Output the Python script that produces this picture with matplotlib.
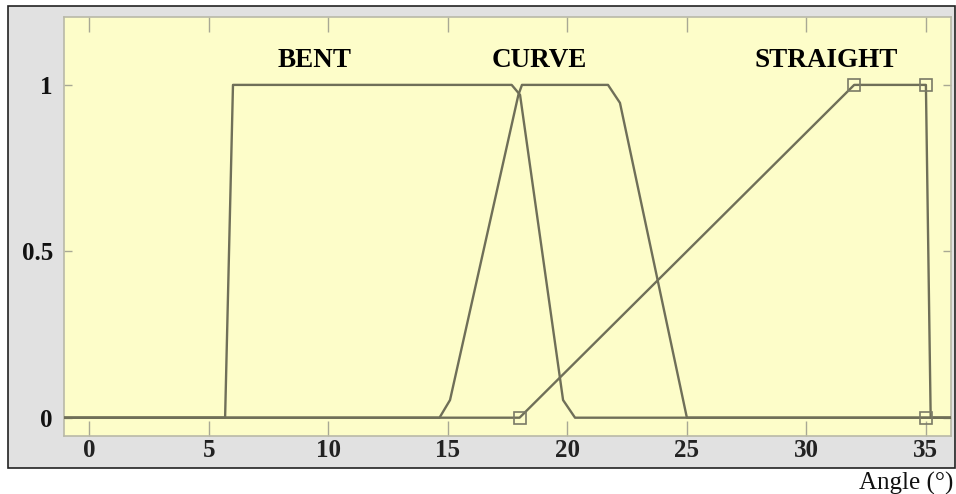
import matplotlib
matplotlib.use("Agg")
import matplotlib.pyplot as plt
from matplotlib.patches import Rectangle

# ---- data (angle in degrees, membership 0..1) ----
x_min, x_max = -1.06, 36.05
bent_x = [x_min, 5.68, 6.01, 17.67, 18.02, 19.82, 20.32, x_max]
bent_y = [0, 0, 1, 1, 0.97, 0.053, 0, 0]
curve_x = [x_min, 14.65, 15.09, 17.95, 18.1, 21.7, 22.2, 25.0, x_max]
curve_y = [0, 0, 0.053, 0.97, 1, 1, 0.946, 0, 0]
straight_x = [x_min, 18.0, 32.0, 35.0, 35.2, x_max]
straight_y = [0, 0, 1, 1, 0, 0]
marker_x = [18.0, 32.0, 35.0, 35.0]
marker_y = [0, 1, 1, 0]
set_names = ["BENT", "CURVE", "STRAIGHT"]
set_label_x = [9.44, 18.84, 30.82]
x_ticks = [0, 5, 10, 15, 20, 25, 30, 35]
y_ticks = [0, 0.5, 1]
y_tick_labels = ["0", "0.5", "1"]

W, H = 956, 494
fig = plt.figure(figsize=(W / 100, H / 100), dpi=100)
fig.patch.set_facecolor("white")

# outer gray frame
frame = Rectangle((8 / W, 1 - 468 / H), (955 - 8) / W, (468 - 6) / H,
                  transform=fig.transFigure, facecolor="#e1e1e1",
                  edgecolor="#222222", linewidth=1.2, zorder=-10)
fig.add_artist(frame)

ax = fig.add_axes([64 / W, 1 - 436 / H, (951 - 64) / W, (436 - 17) / H])
ax.set_zorder(1)
ax.set_facecolor("#fdfdc9")
ax.set_xlim(x_min, x_max)
ax.set_ylim(-0.055, 1.204)

line_color = "#6f6f58"
for xs, ys in [(bent_x, bent_y), (curve_x, curve_y), (straight_x, straight_y)]:
    ax.plot(xs, ys, color=line_color, linewidth=1.7, solid_joinstyle="round", zorder=3)
ax.plot(marker_x, marker_y, linestyle="none", marker="s", markersize=8,
        markerfacecolor="none", markeredgecolor="#7a7a66", markeredgewidth=1.2, zorder=4)

for name, lx in zip(set_names, set_label_x):
    ax.text(lx, 1.0526, name, ha="center", va="baseline", fontsize=19.5,
            fontweight="bold", family="Liberation Serif", color="black")

ax.set_xticks(x_ticks)
ax.set_xticklabels([str(t) for t in x_ticks], fontsize=18, fontweight="bold",
                   family="Liberation Serif", color="#222222")
ax.set_yticks(y_ticks)
ax.set_yticklabels(y_tick_labels, fontsize=18, fontweight="bold",
                   family="Liberation Serif", color="#111111")
ax.tick_params(axis="x", direction="in", length=11, width=1, color="#a8a894",
               top=True, bottom=True, pad=2)
ax.tick_params(axis="y", direction="in", length=6, width=1, color="#a8a894",
               left=True, right=True, pad=8)
for s in ax.spines.values():
    s.set_color("#b9b9a8")
    s.set_linewidth(1.2)

fig.text(953 / W, 1 - 483 / H, "Angle (°)", ha="right", va="center",
         fontsize=18, family="Liberation Serif", color="#111111")

fig.savefig("out.png", dpi=100)
